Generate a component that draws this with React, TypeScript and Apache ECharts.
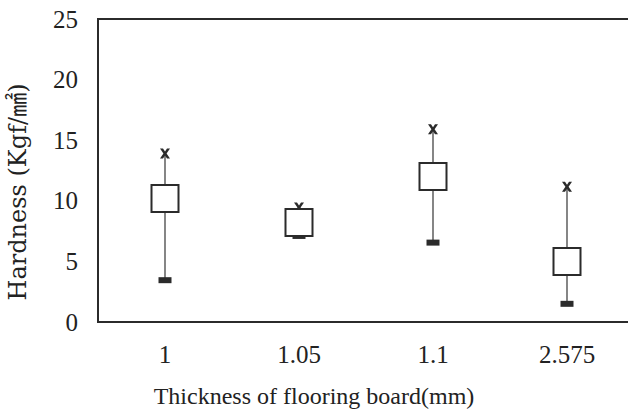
import React, { useEffect, useRef } from "react";
import * as echarts from "echarts";

const categories = ["1", "1.05", "1.1", "2.575"];
const meanValues = [10.2, 8.2, 12.0, 5.0];
const maxValues = [13.9, 9.45, 15.9, 11.15];
const minValues = [3.45, 7.1, 6.55, 1.5];
const yTicks = [0, 5, 10, 15, 20, 25];

const FONT = "'Liberation Serif', 'DejaVu Serif', 'Noto Sans CJK KR', serif";
const WIDE_FONT = "'DejaVu Serif', 'Noto Sans CJK KR', serif";
const INK = "#2b2b2b";
const X_PATH =
  "path://M0,0 L3,0 L5,3 L7,0 L10,0 L6.6,5 L10,10 L7,10 L5,7 L3,10 L0,10 L3.4,5 Z";

export default function App() {
  const ref = useRef<HTMLDivElement>(null);
  useEffect(() => {
    if (!ref.current) return;
    const chart = echarts.init(ref.current, null, { renderer: "svg" });
    const whiskers = categories.map((_, i) => [i, minValues[i], maxValues[i]]);
    chart.setOption({
      animation: false,
      backgroundColor: "#ffffff",
      grid: {
        left: 98,
        right: 6,
        top: 19,
        bottom: 90,
        show: true,
        borderColor: INK,
        borderWidth: 2,
        backgroundColor: "transparent",
      },
      xAxis: {
        type: "category",
        data: categories,
        boundaryGap: true,
        axisLine: { show: false },
        axisTick: { show: false },
        axisLabel: {
          color: "#222",
          fontFamily: FONT,
          fontSize: 25,
          margin: 20,
        },
        splitLine: { show: false },
      },
      yAxis: {
        type: "value",
        min: yTicks[0],
        max: yTicks[yTicks.length - 1],
        interval: 5,
        axisLine: { show: false },
        axisTick: { show: false },
        splitLine: { show: false },
        axisLabel: {
          color: "#222",
          fontFamily: FONT,
          fontSize: 25,
          margin: 20,
        },
      },
      graphic: [
        {
          type: "text",
          x: 18,
          y: 192,
          rotation: Math.PI / 2,
          style: {
            text: "Hardness (Kgf/㎟)",
            font: `24px ${WIDE_FONT}`,
            fill: "#222",
            textAlign: "center",
            textVerticalAlign: "middle",
          },
        },
        {
          type: "text",
          x: 314,
          y: 396,
          style: {
            text: "Thickness of flooring board(mm)",
            font: `24px ${FONT}`,
            fill: "#222",
            textAlign: "center",
            textVerticalAlign: "middle",
          },
        },
      ],
      series: [
        {
          type: "custom",
          z: 2,
          data: whiskers,
          renderItem: (params: any, api: any) => {
            const lo = api.coord([api.value(0), api.value(1)]);
            const hi = api.coord([api.value(0), api.value(2)]);
            return {
              type: "line",
              shape: { x1: lo[0], y1: lo[1], x2: hi[0], y2: hi[1] },
              style: { stroke: "#444", lineWidth: 1.3 },
            };
          },
        },
        {
          type: "scatter",
          z: 3,
          data: maxValues,
          symbol: X_PATH,
          symbolSize: 10,
          itemStyle: { color: INK, opacity: 1 },
        },
        {
          type: "scatter",
          z: 3,
          data: minValues,
          symbol: "rect",
          symbolSize: [13, 6],
          itemStyle: { color: INK, opacity: 1 },
        },
        {
          type: "scatter",
          z: 4,
          data: meanValues,
          symbol: "rect",
          symbolSize: 27,
          itemStyle: { color: "#ffffff", borderColor: INK, borderWidth: 2, opacity: 1 },
        },
      ],
    });
    return () => chart.dispose();
  }, []);
  return (
    <div
      ref={ref}
      style={{ position: "fixed", left: 0, top: 0, width: 640, height: 412 }}
    />
  );
}
